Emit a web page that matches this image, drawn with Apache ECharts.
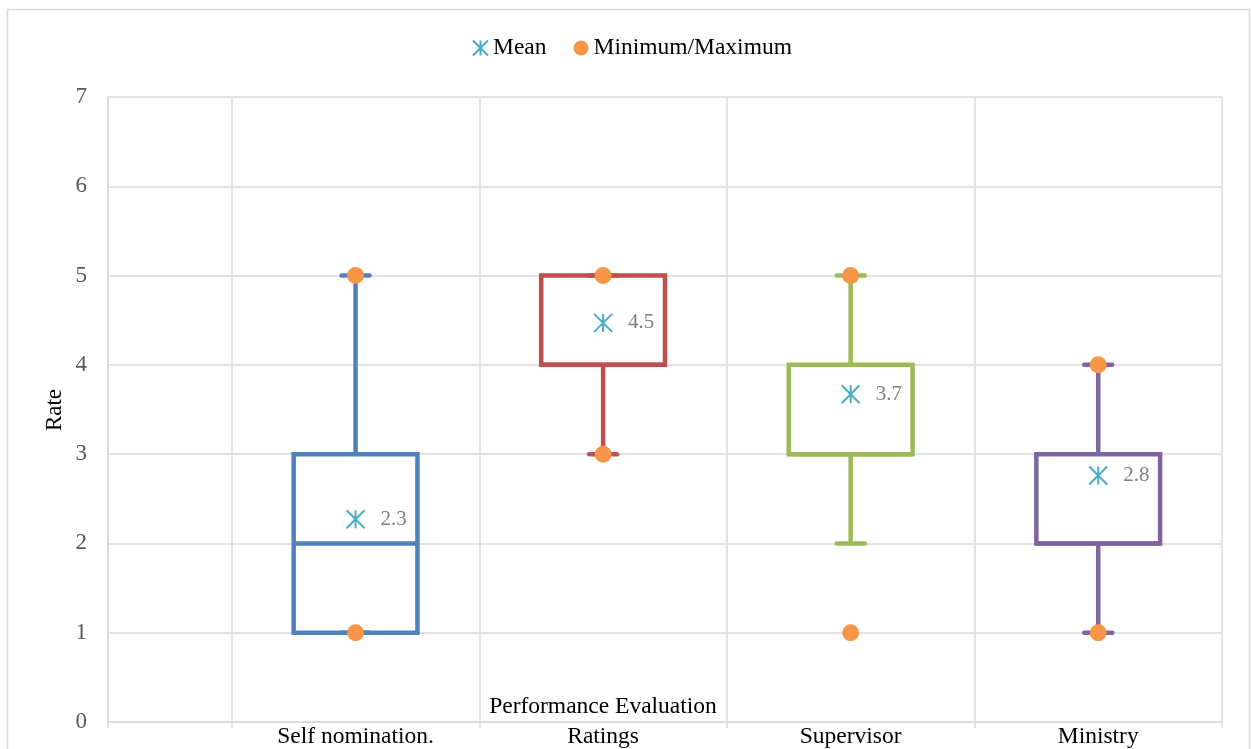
<!DOCTYPE html>
<html>
<head>
<meta charset="utf-8">
<title>Performance Evaluation</title>
<script src="https://cdn.jsdelivr.net/npm/echarts@6/dist/echarts.min.js"></script>
<style>
  html, body { margin: 0; padding: 0; background: #ffffff; }
  #chart { width: 1252px; height: 749px; }
</style>
</head>
<body>
<div id="chart"></div>
<script>
// Box-and-whisker summary per evaluation source
const categories = ['Self nomination.', 'Ratings', 'Supervisor', 'Ministry'];
const whiskerLow = [1, 3, 2, 1];
const q1 = [1, 4, 3, 2];
const median = [2, 4, 3, 2];
const q3 = [3, 5, 4, 3];
const whiskerHigh = [5, 5, 5, 4];
const minimum = [1, 3, 1, 1];
const maximum = [5, 5, 5, 4];
const mean = [2.27, 4.47, 3.67, 2.76];
const boxColors = ['#4F81BD', '#C0504D', '#9BBB59', '#8064A2'];

const FONT = "'Liberation Serif', 'Times New Roman', serif";

// The category axis runs in half steps so that gridlines fall between
// the categories and an empty half band sits next to the value axis.
const axisSlots = ['', ''];
categories.forEach(c => { axisSlots.push(c, ''); });
const slotOf = i => 2 + 2 * i;
const isBoundary = idx => idx === 0 || idx % 2 === 1;

const boxData = categories.map((c, i) =>
  [slotOf(i), whiskerLow[i], q1[i], median[i], q3[i], whiskerHigh[i]]);
const extremeData = [];
categories.forEach((c, i) => {
  extremeData.push([slotOf(i), minimum[i]]);
  extremeData.push([slotOf(i), maximum[i]]);
});
const meanData = categories.map((c, i) => [slotOf(i), mean[i]]);

const starPath = 'path://M0,0L10,10M10,0L0,10M5,0L5,10';

function renderBox(params, api) {
  const i = params.dataIndex;
  const x = api.value(0);
  const bandW = api.size([1, 0])[0];
  const color = boxColors[i];
  const pt = v => api.coord([x, v]);
  const lo = pt(api.value(1));
  const b1 = pt(api.value(2));
  const md = pt(api.value(3));
  const b3 = pt(api.value(4));
  const hi = pt(api.value(5));
  const cx = lo[0];
  const half = bandW / 2;
  const cap = 14;
  const style = { stroke: color, fill: 'none', lineWidth: 4.5, lineJoin: 'miter' };
  const capStyle = { stroke: color, fill: 'none', lineWidth: 4.5, lineCap: 'round' };
  return {
    type: 'group',
    children: [
      { type: 'line', shape: { x1: cx, y1: b3[1], x2: cx, y2: hi[1] }, style: style },
      { type: 'line', shape: { x1: cx, y1: b1[1], x2: cx, y2: lo[1] }, style: style },
      { type: 'line', shape: { x1: cx - cap, y1: hi[1], x2: cx + cap, y2: hi[1] }, style: capStyle },
      { type: 'line', shape: { x1: cx - cap, y1: lo[1], x2: cx + cap, y2: lo[1] }, style: capStyle },
      { type: 'rect', shape: { x: cx - half, y: b3[1], width: bandW, height: b1[1] - b3[1] }, style: style },
      { type: 'line', shape: { x1: cx - half, y1: md[1], x2: cx + half, y2: md[1] }, style: style }
    ]
  };
}

const chart = echarts.init(document.getElementById('chart'), null, { renderer: 'canvas' });
chart.setOption({
  animation: false,
  backgroundColor: '#ffffff',
  textStyle: { fontFamily: FONT },
  graphic: [
    {
      type: 'rect',
      shape: { x: 7.5, y: 9.5, width: 1242, height: 780 },
      style: { stroke: '#d9d9d9', fill: 'none', lineWidth: 1.5 },
      silent: true
    },
    {
      type: 'text',
      x: 603, y: 707,
      style: {
        text: 'Performance Evaluation',
        fontFamily: FONT, fontSize: 23.5, fill: '#000000',
        textAlign: 'center', textVerticalAlign: 'middle'
      }
    },
    {
      // value axis title
      type: 'text',
      x: 55, y: 410,
      rotation: Math.PI / 2,
      style: {
        text: 'Rate',
        fontFamily: FONT, fontSize: 23, fill: '#000000',
        textAlign: 'center', textVerticalAlign: 'middle'
      }
    }
  ],
  legend: {
    top: 31,
    left: 467,
    itemGap: 27,
    itemWidth: 15,
    itemHeight: 15,
    textStyle: { fontFamily: FONT, fontSize: 23.5, color: '#000000' },
    data: [
      { name: 'Mean', icon: starPath,
        itemStyle: { color: 'rgba(0,0,0,0)', borderColor: '#4BACC6', borderWidth: 2 } },
      { name: 'Minimum/Maximum', icon: 'circle' }
    ]
  },
  grid: { left: 108, right: 30, top: 97, bottom: 27, containLabel: false },
  xAxis: {
    type: 'category',
    data: axisSlots,
    boundaryGap: false,
    axisLine: { show: true, lineStyle: { color: '#d9d9d9', width: 1.5 } },
    axisTick: { show: true, length: 6, interval: isBoundary,
      lineStyle: { color: '#d9d9d9', width: 1.5 } },
    axisLabel: { interval: 0, margin: 3, fontFamily: FONT, fontSize: 23.5, color: '#000000' },
    splitLine: { show: true, interval: isBoundary,
      lineStyle: { color: '#d9d9d9', width: 1.5 } }
  },
  yAxis: {
    type: 'value',
    min: 0, max: 7, interval: 1,
    axisLine: { show: true, lineStyle: { color: '#d9d9d9', width: 1.5 } },
    axisTick: { show: false },
    axisLabel: { margin: 21, fontFamily: FONT, fontSize: 23, color: '#595959' },
    splitLine: { show: true, lineStyle: { color: '#d9d9d9', width: 1.5 } }
  },
  series: [
    {
      name: 'Box',
      type: 'custom',
      renderItem: renderBox,
      encode: { x: 0, y: [1, 2, 3, 4, 5] },
      data: boxData,
      z: 2
    },
    {
      name: 'Minimum/Maximum',
      type: 'scatter',
      symbol: 'circle',
      symbolSize: 17,
      itemStyle: { color: '#F79646', opacity: 1 },
      data: extremeData,
      z: 3
    },
    {
      name: 'Mean',
      type: 'scatter',
      symbol: starPath,
      symbolSize: 18,
      itemStyle: { color: 'rgba(0,0,0,0)', borderColor: '#4BACC6', borderWidth: 2, opacity: 1 },
      label: {
        show: true,
        position: 'right',
        distance: 15,
        fontFamily: FONT,
        fontSize: 21,
        color: '#7f7f7f',
        formatter: p => p.value[1].toFixed(1)
      },
      data: meanData,
      z: 4
    }
  ]
});
</script>
</body>
</html>
